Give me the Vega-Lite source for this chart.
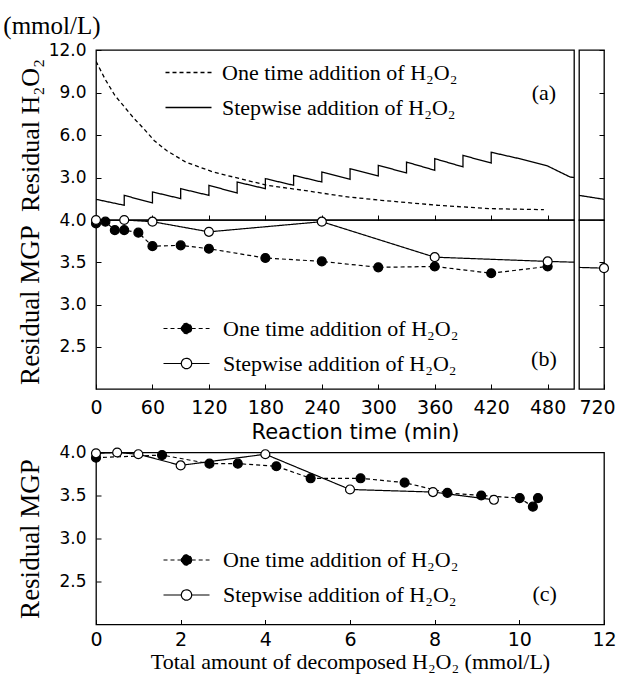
{
  "$schema": "https://vega.github.io/schema/vega-lite/v6.json",
  "padding": {"left": 3, "top": 14, "right": 0, "bottom": 0},
  "background": "white",
  "title": {"text": "(mmol/L)", "anchor": "start", "font": "Liberation Serif", "fontSize": 25, "fontWeight": "normal", "color": "black", "offset": 1, "dx": -12},
  "config": {
    "view": {"stroke": "black", "strokeWidth": 1.3},
    "axis": {"grid": false, "domain": false, "labelFlush": false, "labelOverlap": false, "tickColor": "black", "tickSize": -5, "tickWidth": 1, "labelColor": "black", "labelFont": "DejaVu Sans", "labelFontSize": 17, "titleColor": "black", "titleFont": "Liberation Serif", "titleFontSize": 27, "titleFontWeight": "normal"},
    "legend": {"title": null, "orient": "none", "labelFont": "Liberation Serif", "labelFontSize": 22, "labelColor": "black", "labelLimit": 500, "rowPadding": 11, "symbolStrokeColor": "black", "symbolStrokeWidth": 1.3, "symbolSize": 529, "labelOffset": 24}
  },
  "resolve": {"scale": {"strokeDash": "independent", "fill": "independent"}, "legend": {"strokeDash": "independent", "fill": "independent"}},
  "datasets": {
    "h2o2": [
      {"t": 0, "v": 11.2, "m": "One time addition of H₂O₂", "i": 0},
      {"t": 10, "v": 9.9, "m": "One time addition of H₂O₂", "i": 1},
      {"t": 20, "v": 8.8, "m": "One time addition of H₂O₂", "i": 2},
      {"t": 30, "v": 8.0, "m": "One time addition of H₂O₂", "i": 3},
      {"t": 40, "v": 7.2, "m": "One time addition of H₂O₂", "i": 4},
      {"t": 50, "v": 6.5, "m": "One time addition of H₂O₂", "i": 5},
      {"t": 62, "v": 5.6, "m": "One time addition of H₂O₂", "i": 6},
      {"t": 75, "v": 4.9, "m": "One time addition of H₂O₂", "i": 7},
      {"t": 95, "v": 4.1, "m": "One time addition of H₂O₂", "i": 8},
      {"t": 124, "v": 3.4, "m": "One time addition of H₂O₂", "i": 9},
      {"t": 154, "v": 2.9, "m": "One time addition of H₂O₂", "i": 10},
      {"t": 182, "v": 2.45, "m": "One time addition of H₂O₂", "i": 11},
      {"t": 225, "v": 2.05, "m": "One time addition of H₂O₂", "i": 12},
      {"t": 265, "v": 1.65, "m": "One time addition of H₂O₂", "i": 13},
      {"t": 303, "v": 1.39, "m": "One time addition of H₂O₂", "i": 14},
      {"t": 363, "v": 1.04, "m": "One time addition of H₂O₂", "i": 15},
      {"t": 419, "v": 0.8, "m": "One time addition of H₂O₂", "i": 16},
      {"t": 476, "v": 0.73, "m": "One time addition of H₂O₂", "i": 17},
      {"t": 0, "v": 1.46, "m": "Stepwise addition of H₂O₂", "i": 100},
      {"t": 30, "v": 1.04, "m": "Stepwise addition of H₂O₂", "i": 101},
      {"t": 30, "v": 1.74, "m": "Stepwise addition of H₂O₂", "i": 102},
      {"t": 60, "v": 1.2, "m": "Stepwise addition of H₂O₂", "i": 103},
      {"t": 60, "v": 1.98, "m": "Stepwise addition of H₂O₂", "i": 104},
      {"t": 90, "v": 1.51, "m": "Stepwise addition of H₂O₂", "i": 105},
      {"t": 90, "v": 2.21, "m": "Stepwise addition of H₂O₂", "i": 106},
      {"t": 120, "v": 1.74, "m": "Stepwise addition of H₂O₂", "i": 107},
      {"t": 120, "v": 2.45, "m": "Stepwise addition of H₂O₂", "i": 108},
      {"t": 150, "v": 1.9, "m": "Stepwise addition of H₂O₂", "i": 109},
      {"t": 150, "v": 2.68, "m": "Stepwise addition of H₂O₂", "i": 110},
      {"t": 180, "v": 2.21, "m": "Stepwise addition of H₂O₂", "i": 111},
      {"t": 180, "v": 2.92, "m": "Stepwise addition of H₂O₂", "i": 112},
      {"t": 210, "v": 2.45, "m": "Stepwise addition of H₂O₂", "i": 113},
      {"t": 210, "v": 3.15, "m": "Stepwise addition of H₂O₂", "i": 114},
      {"t": 240, "v": 2.68, "m": "Stepwise addition of H₂O₂", "i": 115},
      {"t": 240, "v": 3.39, "m": "Stepwise addition of H₂O₂", "i": 116},
      {"t": 270, "v": 2.87, "m": "Stepwise addition of H₂O₂", "i": 117},
      {"t": 270, "v": 3.62, "m": "Stepwise addition of H₂O₂", "i": 118},
      {"t": 300, "v": 3.11, "m": "Stepwise addition of H₂O₂", "i": 119},
      {"t": 300, "v": 3.86, "m": "Stepwise addition of H₂O₂", "i": 120},
      {"t": 330, "v": 3.32, "m": "Stepwise addition of H₂O₂", "i": 121},
      {"t": 330, "v": 4.09, "m": "Stepwise addition of H₂O₂", "i": 122},
      {"t": 360, "v": 3.51, "m": "Stepwise addition of H₂O₂", "i": 123},
      {"t": 360, "v": 4.33, "m": "Stepwise addition of H₂O₂", "i": 124},
      {"t": 390, "v": 3.75, "m": "Stepwise addition of H₂O₂", "i": 125},
      {"t": 390, "v": 4.56, "m": "Stepwise addition of H₂O₂", "i": 126},
      {"t": 420, "v": 4.02, "m": "Stepwise addition of H₂O₂", "i": 127},
      {"t": 420, "v": 4.78, "m": "Stepwise addition of H₂O₂", "i": 128},
      {"t": 450, "v": 4.33, "m": "Stepwise addition of H₂O₂", "i": 129},
      {"t": 480, "v": 3.81, "m": "Stepwise addition of H₂O₂", "i": 130},
      {"t": 504, "v": 3.03, "m": "Stepwise addition of H₂O₂", "i": 131},
      {"t": 694, "v": 1.74, "m": "Stepwise addition of H₂O₂", "i": 132},
      {"t": 720, "v": 1.46, "m": "Stepwise addition of H₂O₂", "i": 133}
    ],
    "mgp": [
      {"t": 0, "v": 3.96, "m": "One time addition of H₂O₂"},
      {"t": 10, "v": 3.98, "m": "One time addition of H₂O₂"},
      {"t": 20, "v": 3.88, "m": "One time addition of H₂O₂"},
      {"t": 30, "v": 3.88, "m": "One time addition of H₂O₂"},
      {"t": 45, "v": 3.85, "m": "One time addition of H₂O₂"},
      {"t": 60, "v": 3.69, "m": "One time addition of H₂O₂"},
      {"t": 90, "v": 3.7, "m": "One time addition of H₂O₂"},
      {"t": 120, "v": 3.66, "m": "One time addition of H₂O₂"},
      {"t": 180, "v": 3.55, "m": "One time addition of H₂O₂"},
      {"t": 240, "v": 3.51, "m": "One time addition of H₂O₂"},
      {"t": 300, "v": 3.44, "m": "One time addition of H₂O₂"},
      {"t": 360, "v": 3.45, "m": "One time addition of H₂O₂"},
      {"t": 420, "v": 3.37, "m": "One time addition of H₂O₂"},
      {"t": 480, "v": 3.45, "m": "One time addition of H₂O₂"},
      {"t": 0, "v": 4.0, "m": "Stepwise addition of H₂O₂"},
      {"t": 30, "v": 4.0, "m": "Stepwise addition of H₂O₂"},
      {"t": 60, "v": 3.98, "m": "Stepwise addition of H₂O₂"},
      {"t": 120, "v": 3.86, "m": "Stepwise addition of H₂O₂"},
      {"t": 240, "v": 3.98, "m": "Stepwise addition of H₂O₂"},
      {"t": 360, "v": 3.56, "m": "Stepwise addition of H₂O₂"},
      {"t": 480, "v": 3.51, "m": "Stepwise addition of H₂O₂"},
      {"t": 720, "v": 3.43, "m": "Stepwise addition of H₂O₂"}
    ],
    "mgpc": [
      {"x": 0, "v": 3.94, "m": "One time addition of H₂O₂"},
      {"x": 1.56, "v": 3.97, "m": "One time addition of H₂O₂"},
      {"x": 2.68, "v": 3.87, "m": "One time addition of H₂O₂"},
      {"x": 3.35, "v": 3.87, "m": "One time addition of H₂O₂"},
      {"x": 4.26, "v": 3.84, "m": "One time addition of H₂O₂"},
      {"x": 5.07, "v": 3.7, "m": "One time addition of H₂O₂"},
      {"x": 6.25, "v": 3.7, "m": "One time addition of H₂O₂"},
      {"x": 7.29, "v": 3.65, "m": "One time addition of H₂O₂"},
      {"x": 8.3, "v": 3.53, "m": "One time addition of H₂O₂"},
      {"x": 9.1, "v": 3.5, "m": "One time addition of H₂O₂"},
      {"x": 10.01, "v": 3.47, "m": "One time addition of H₂O₂"},
      {"x": 10.32, "v": 3.37, "m": "One time addition of H₂O₂"},
      {"x": 10.44, "v": 3.47, "m": "One time addition of H₂O₂"},
      {"x": 0, "v": 3.99, "m": "Stepwise addition of H₂O₂"},
      {"x": 0.5, "v": 4.0, "m": "Stepwise addition of H₂O₂"},
      {"x": 1.0, "v": 3.98, "m": "Stepwise addition of H₂O₂"},
      {"x": 2.0, "v": 3.85, "m": "Stepwise addition of H₂O₂"},
      {"x": 4.0, "v": 3.98, "m": "Stepwise addition of H₂O₂"},
      {"x": 6.0, "v": 3.57, "m": "Stepwise addition of H₂O₂"},
      {"x": 7.96, "v": 3.54, "m": "Stepwise addition of H₂O₂"},
      {"x": 9.4, "v": 3.45, "m": "Stepwise addition of H₂O₂"}
    ]
  },
  "spacing": -0.5,
  "vconcat": [
    {
      "columns": 2,
      "align": "each",
      "bounds": "flush",
      "spacing": {"row": 0, "column": 5},
      "resolve": {"scale": {"strokeDash": "independent", "fill": "independent"}, "legend": {"strokeDash": "independent", "fill": "independent"}},
      "concat": [
        {
          "width": 478, "height": 170,
          "layer": [
            {
              "data": {"name": "h2o2"},
              "mark": {"type": "line", "clip": true, "color": "black", "strokeWidth": 1.3},
              "encoding": {
                "x": {"field": "t", "type": "quantitative", "scale": {"domain": [0, 508], "nice": false, "zero": false}, "axis": {"values": [0, 60, 120, 180, 240, 300, 360, 420, 480], "labels": false, "title": null}},
                "y": {"field": "v", "type": "quantitative", "scale": {"domain": [0, 12], "nice": false}, "axis": {"values": [3, 6, 9, 12], "format": ".1f", "title": "Residual H₂O₂", "titleFontSize": 26, "minExtent": 50, "maxExtent": 50, "titlePadding": 3, "labelPadding": 15}},
                "strokeDash": {"field": "m", "type": "nominal", "scale": {"domain": ["One time addition of H₂O₂", "Stepwise addition of H₂O₂"], "range": [[4, 3], [1, 0]]}, "legend": {"legendX": 80, "legendY": 10, "labelOffset": 21, "symbolType": "M-2,0H2", "symbolFillColor": "transparent"}},
                "order": {"field": "i", "type": "quantitative"}
              }
            },
            {
              "data": {"values": [{"lab": "(a)"}]},
              "mark": {"type": "text", "font": "Liberation Serif", "fontSize": 22, "color": "black"},
              "encoding": {"x": {"datum": 476, "type": "quantitative"}, "y": {"datum": 9.0, "type": "quantitative"}, "text": {"field": "lab"}}
            }
          ]
        },
        {
          "width": 25, "height": 170,
          "data": {"name": "h2o2"},
          "mark": {"type": "line", "clip": true, "color": "black", "strokeWidth": 1.3},
          "encoding": {
            "x": {"field": "t", "type": "quantitative", "scale": {"domain": [694, 720], "nice": false, "zero": false}, "axis": null},
            "y": {"field": "v", "type": "quantitative", "scale": {"domain": [0, 12], "nice": false}, "axis": {"orient": "right", "values": [3, 6, 9, 12], "labels": false, "title": null}},
            "strokeDash": {"field": "m", "type": "nominal", "scale": {"domain": ["One time addition of H₂O₂", "Stepwise addition of H₂O₂"], "range": [[4, 3], [1, 0]]}, "legend": null},
            "order": {"field": "i", "type": "quantitative"}
          }
        },
        {
          "width": 478, "height": 169,
          "layer": [
            {
              "data": {"name": "mgp"},
              "mark": {"type": "line", "clip": true, "color": "black", "strokeWidth": 1.2},
              "encoding": {
                "x": {"field": "t", "type": "quantitative", "scale": {"domain": [0, 508], "nice": false, "zero": false}, "axis": {"values": [0, 60, 120, 180, 240, 300, 360, 420, 480], "format": "d", "labelFontSize": 19, "labelPadding": 14, "title": "Reaction time (min)", "titleFont": "DejaVu Sans", "titleFontSize": 21, "titlePadding": 4, "titleX": 259, "titleAlign": "center"}},
                "y": {"field": "v", "type": "quantitative", "scale": {"domain": [2, 4], "nice": false, "zero": false}, "axis": {"values": [2.5, 3.0, 3.5, 4.0], "format": ".1f", "title": "Residual MGP", "minExtent": 50, "maxExtent": 50, "titlePadding": 2, "labelPadding": 15}},
                "strokeDash": {"field": "m", "type": "nominal", "scale": {"domain": ["One time addition of H₂O₂", "Stepwise addition of H₂O₂"], "range": [[4, 3], [1, 0]]}, "legend": {"legendX": 78, "legendY": 96, "symbolType": "M-2,0H-0.45M0.45,0H2M0.45,0A0.45,0.45,0,1,1,-0.45,0A0.45,0.45,0,1,1,0.45,0", "encode": {"symbols": {"update": {"fill": {"signal": "indexof(datum.value, 'Step') >= 0 ? 'white' : 'black'"}, "fillOpacity": {"value": 1}, "stroke": {"value": "black"}, "strokeWidth": {"value": 1.2}, "strokeDash": {"signal": "indexof(datum.value, 'Step') >= 0 ? [1, 0] : [4, 3]"}}}}}}
              }
            },
            {
              "data": {"name": "mgp"},
              "transform": [{"filter": "datum.t <= 508"}],
              "mark": {"type": "point", "shape": "circle", "filled": true, "size": 80, "stroke": "black", "strokeWidth": 1.2, "opacity": 1},
              "encoding": {
                "x": {"field": "t", "type": "quantitative", "scale": {"domain": [0, 508], "nice": false, "zero": false}},
                "y": {"field": "v", "type": "quantitative", "scale": {"domain": [2, 4], "nice": false, "zero": false}},
                "fill": {"field": "m", "type": "nominal", "scale": {"domain": ["One time addition of H₂O₂", "Stepwise addition of H₂O₂"], "range": ["black", "white"]}, "legend": null}
              }
            },
            {
              "data": {"values": [{"lab": "(b)"}]},
              "mark": {"type": "text", "font": "Liberation Serif", "fontSize": 22, "color": "black"},
              "encoding": {"x": {"datum": 476, "type": "quantitative"}, "y": {"datum": 2.35, "type": "quantitative"}, "text": {"field": "lab"}}
            }
          ]
        },
        {
          "width": 25, "height": 169,
          "layer": [
            {
              "data": {"name": "mgp"},
              "mark": {"type": "line", "clip": true, "color": "black", "strokeWidth": 1.2},
              "encoding": {
                "x": {"field": "t", "type": "quantitative", "scale": {"domain": [694, 720], "nice": false, "zero": false}, "axis": {"values": [720], "format": "d", "labelFontSize": 19, "labelPadding": 14, "labelOffset": -7, "title": null}},
                "y": {"field": "v", "type": "quantitative", "scale": {"domain": [2, 4], "nice": false, "zero": false}, "axis": {"orient": "right", "values": [2.5, 3.0, 3.5, 4.0], "labels": false, "title": null}},
                "strokeDash": {"field": "m", "type": "nominal", "scale": {"domain": ["One time addition of H₂O₂", "Stepwise addition of H₂O₂"], "range": [[4, 3], [1, 0]]}, "legend": null}
              }
            },
            {
              "data": {"name": "mgp"},
              "transform": [{"filter": "datum.t >= 694"}],
              "mark": {"type": "point", "shape": "circle", "filled": true, "size": 80, "stroke": "black", "strokeWidth": 1.2, "opacity": 1},
              "encoding": {
                "x": {"field": "t", "type": "quantitative", "scale": {"domain": [694, 720], "nice": false, "zero": false}},
                "y": {"field": "v", "type": "quantitative", "scale": {"domain": [2, 4], "nice": false, "zero": false}},
                "fill": {"field": "m", "type": "nominal", "scale": {"domain": ["One time addition of H₂O₂", "Stepwise addition of H₂O₂"], "range": ["black", "white"]}, "legend": null}
              }
            }
          ]
        }
      ]
    },
    {
      "resolve": {"scale": {"strokeDash": "independent", "fill": "independent"}, "legend": {"strokeDash": "independent", "fill": "independent"}},
      "hconcat": [
        {
          "width": 508, "height": 172,
          "layer": [
            {
              "data": {"name": "mgpc"},
              "mark": {"type": "line", "color": "black", "strokeWidth": 1.2},
              "encoding": {
                "x": {"field": "x", "type": "quantitative", "scale": {"domain": [0, 12], "nice": false}, "axis": {"values": [0, 2, 4, 6, 8, 10, 12], "format": "d", "labelFontSize": 19, "labelPadding": 11, "title": "Total amount of decomposed H₂O₂ (mmol/L)", "titleFontSize": 22, "titlePadding": 2}},
                "y": {"field": "v", "type": "quantitative", "scale": {"domain": [2, 4], "nice": false, "zero": false}, "axis": {"values": [2.5, 3.0, 3.5, 4.0], "format": ".1f", "title": "Residual MGP", "minExtent": 50, "maxExtent": 50, "titlePadding": 2, "labelPadding": 15}},
                "strokeDash": {"field": "m", "type": "nominal", "scale": {"domain": ["One time addition of H₂O₂", "Stepwise addition of H₂O₂"], "range": [[4, 3], [1, 0]]}, "legend": {"legendX": 78, "legendY": 95, "symbolType": "M-2,0H-0.45M0.45,0H2M0.45,0A0.45,0.45,0,1,1,-0.45,0A0.45,0.45,0,1,1,0.45,0", "encode": {"symbols": {"update": {"fill": {"signal": "indexof(datum.value, 'Step') >= 0 ? 'white' : 'black'"}, "fillOpacity": {"value": 1}, "stroke": {"value": "black"}, "strokeWidth": {"value": 1.2}, "strokeDash": {"signal": "indexof(datum.value, 'Step') >= 0 ? [1, 0] : [4, 3]"}}}}}}
              }
            },
            {
              "data": {"name": "mgpc"},
              "mark": {"type": "point", "shape": "circle", "filled": true, "size": 80, "stroke": "black", "strokeWidth": 1.2, "opacity": 1},
              "encoding": {
                "x": {"field": "x", "type": "quantitative", "scale": {"domain": [0, 12], "nice": false}},
                "y": {"field": "v", "type": "quantitative", "scale": {"domain": [2, 4], "nice": false, "zero": false}},
                "fill": {"field": "m", "type": "nominal", "scale": {"domain": ["One time addition of H₂O₂", "Stepwise addition of H₂O₂"], "range": ["black", "white"]}, "legend": null}
              }
            },
            {
              "data": {"values": [{"lab": "(c)"}]},
              "mark": {"type": "text", "font": "Liberation Serif", "fontSize": 22, "color": "black"},
              "encoding": {"x": {"datum": 10.6, "type": "quantitative"}, "y": {"datum": 2.35, "type": "quantitative"}, "text": {"field": "lab"}}
            }
          ]
        }
      ]
    }
  ]
}
